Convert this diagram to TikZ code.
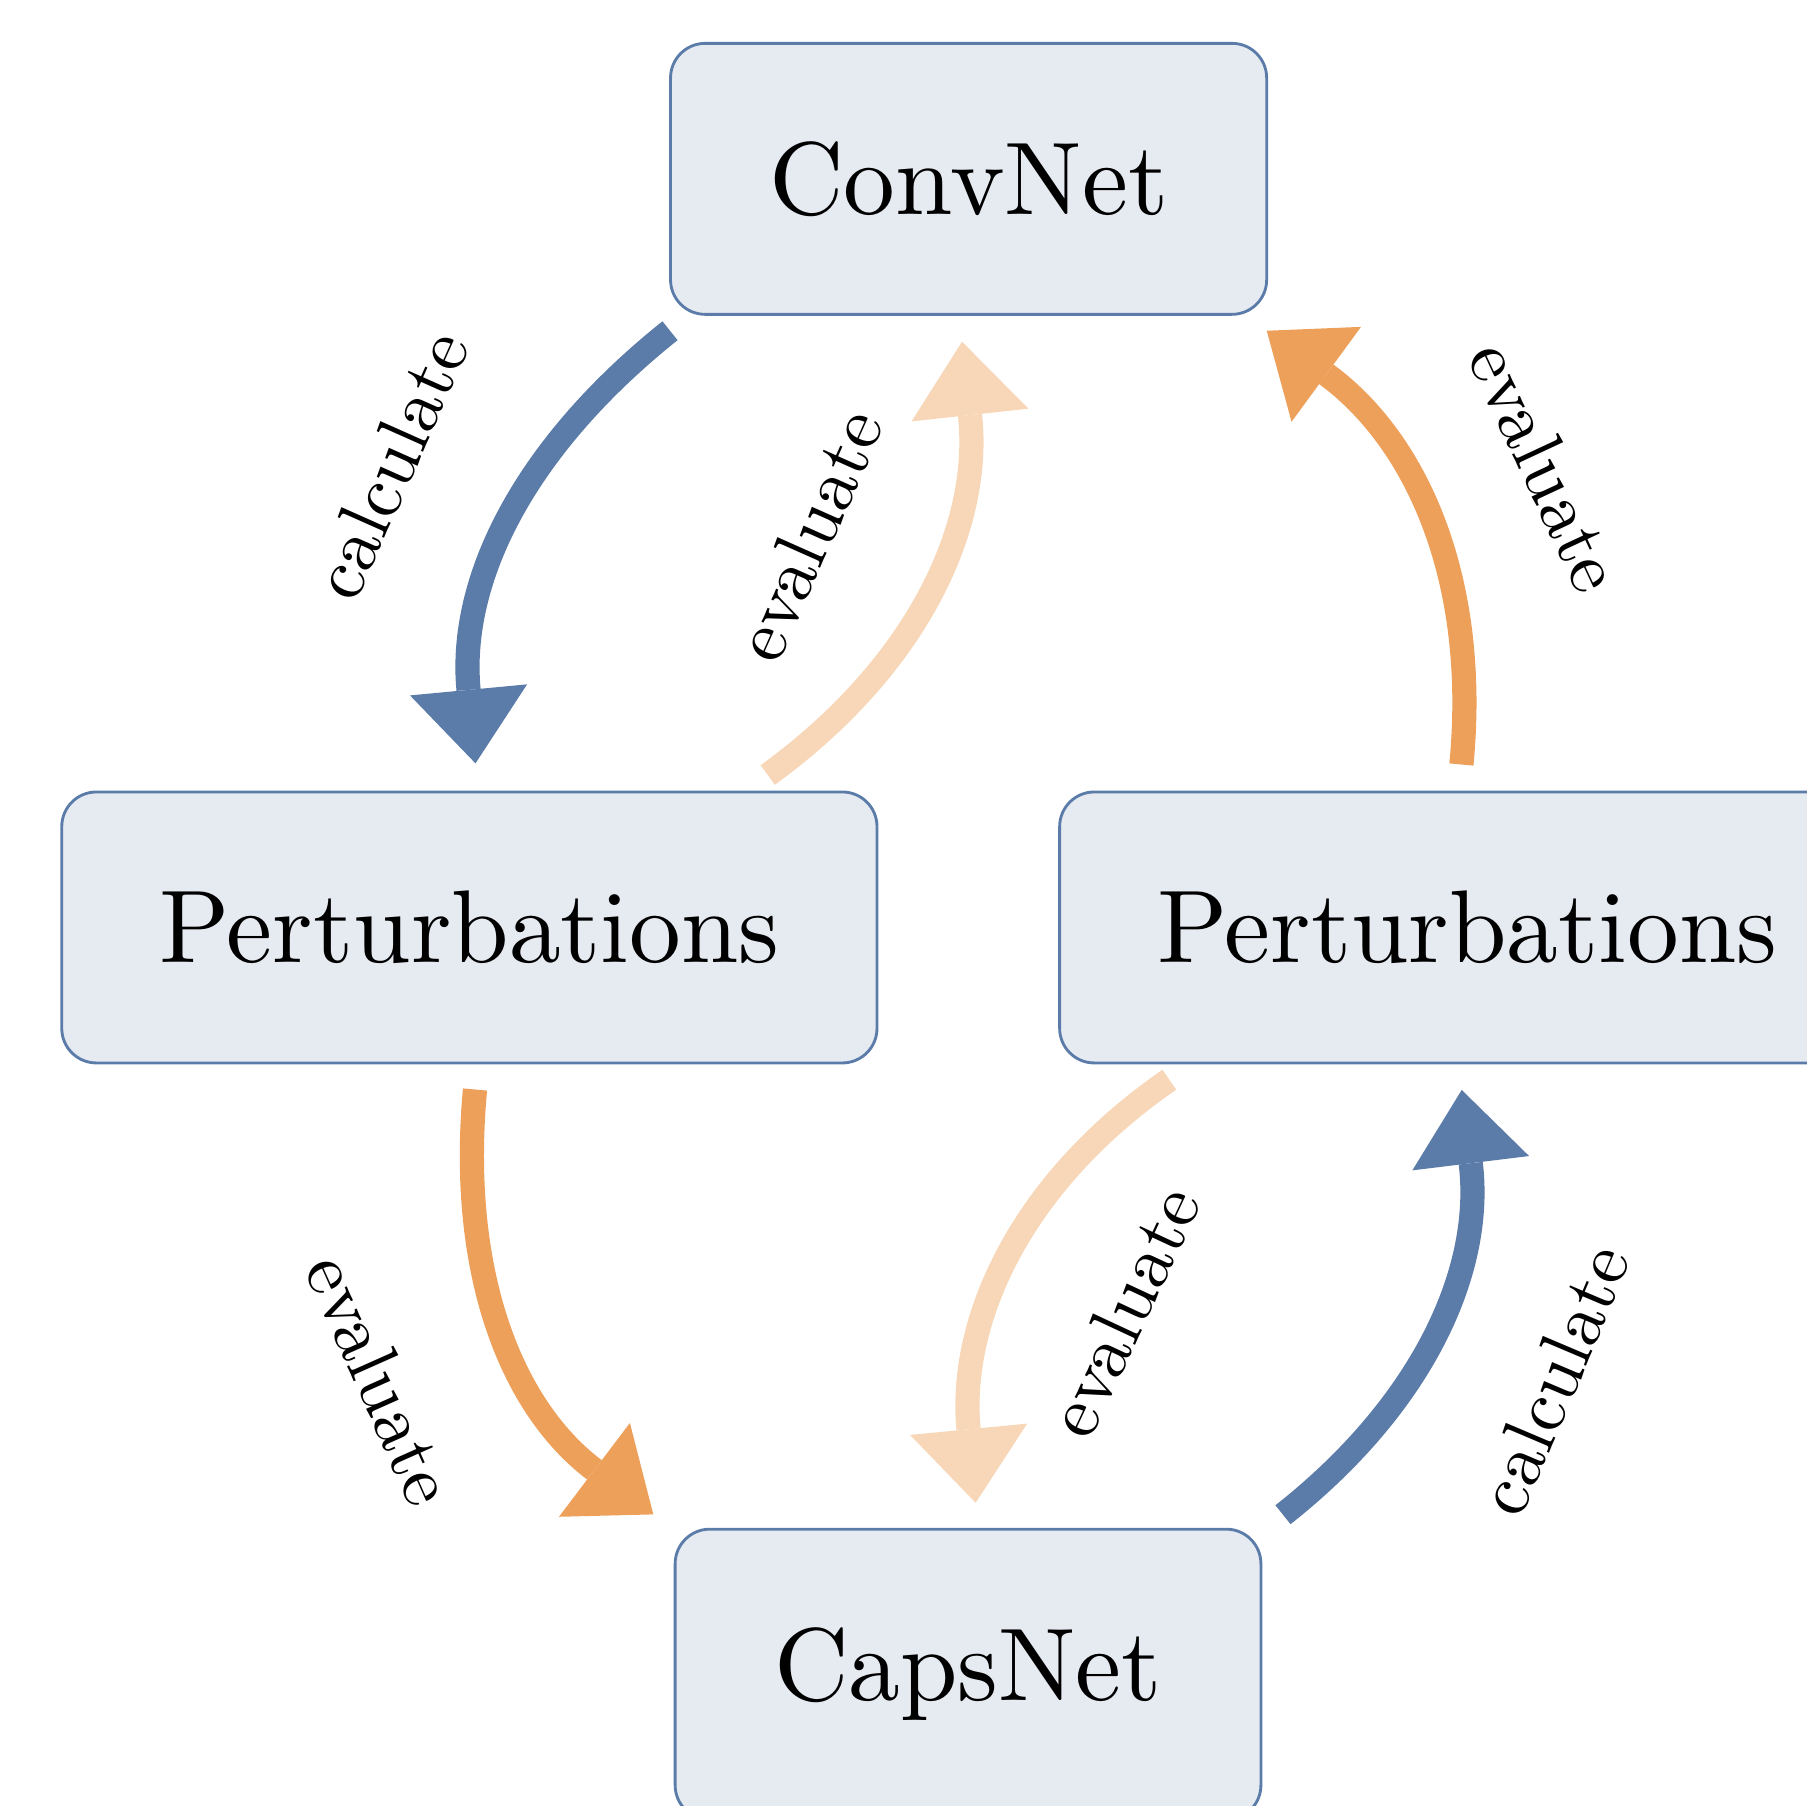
\documentclass[tikz,border=0pt]{standalone}
\usetikzlibrary{arrows.meta}
\definecolor{cblue}{RGB}{91,123,168}
\definecolor{corange}{RGB}{237,160,90}
\definecolor{clight}{RGB}{247,215,184}
\definecolor{cfill}{RGB}{230,235,242}
\newcommand{\boxtext}[1]{\scalebox{2.55}{#1}}
\newcommand{\labtext}[1]{\scalebox{1.83}{#1}}
\tikzset{
  box/.style={draw=cblue, line width=0.7pt, fill=cfill, rounded corners=0.3cm,
    inner sep=0pt, minimum height=2.35cm, font=\fontsize{10}{12}\selectfont},
  arr/.style={line width=0.21cm, -{Triangle[length=0.64cm,width=1.02cm,line width=0pt]}},
  lab/.style={font=\fontsize{10}{12}\selectfont, inner sep=0pt},
}
\begin{document}
\begin{tikzpicture}[x=0.01cm,y=0.01cm]
\useasboundingbox (0,0) rectangle (1568,-1567);
\clip (0,0) rectangle (1568,-1567);
% boxes
\node[box, minimum width=5.17cm] (conv) at (840.5,-155.2) {\boxtext{ConvNet}};
\node[box, minimum width=7.07cm] (pl) at (407.3,-804.8) {\boxtext{Perturbations}};
\node[box, minimum width=7.07cm] (pr) at (1273.2,-804.8) {\boxtext{Perturbations}};
\node[box, minimum width=5.08cm, minimum height=2.52cm] (caps) at (840,-1453) {\boxtext{CapsNet}};
% connector ends
\coordinate (a1s) at (581.4,-287);
\coordinate (a1e) at (412.6,-662.4);
\coordinate (a2s) at (666.2,-672.5);
\coordinate (a2e) at (834.8,-296.5);
\coordinate (a3s) at (1268.1,-663.4);
\coordinate (a3e) at (1099.2,-287);
\coordinate (a4s) at (412.2,-945.4);
\coordinate (a4e) at (566.9,-1314.1);
\coordinate (a5s) at (1014.7,-936.9);
\coordinate (a5e) at (846.6,-1304);
\coordinate (a6s) at (1113.3,-1314.4);
\coordinate (a6e) at (1268.4,-945.8);
% arrows
\draw[arr, cblue]   (a1s) to[out=218.6, in=95.4]  (a1e);
\draw[arr, clight]  (a2s) to[out=36,    in=276.2] (a2e);
\draw[arr, corange] (a3s) to[out=84.5,  in=323.8] (a3e);
\draw[arr, corange] (a4s) to[out=264.7, in=142.9] (a4e);
\draw[arr, clight]  (a5s) to[out=214.6, in=95.5]  (a5e);
\draw[arr, cblue]   (a6s) to[out=38.3,  in=277]   (a6e);
% labels
\node[lab, rotate=66]  (l1) at (338.3,-403.3)  {\labtext{calculate}};
\node[lab, rotate=66]  (l2) at (701.2,-464.2)  {\labtext{evaluate}};
\node[lab, rotate=-65] (l3) at (1341.6,-404.8) {\labtext{evaluate}};
\node[lab, rotate=-66] (l4) at (330.7,-1196.7) {\labtext{evaluate}};
\node[lab, rotate=65]  (l5) at (974.5,-1138.1) {\labtext{evaluate}};
\node[lab, rotate=67]  (l6) at (1347.6,-1196.9) {\labtext{calculate}};
\end{tikzpicture}
\end{document}
